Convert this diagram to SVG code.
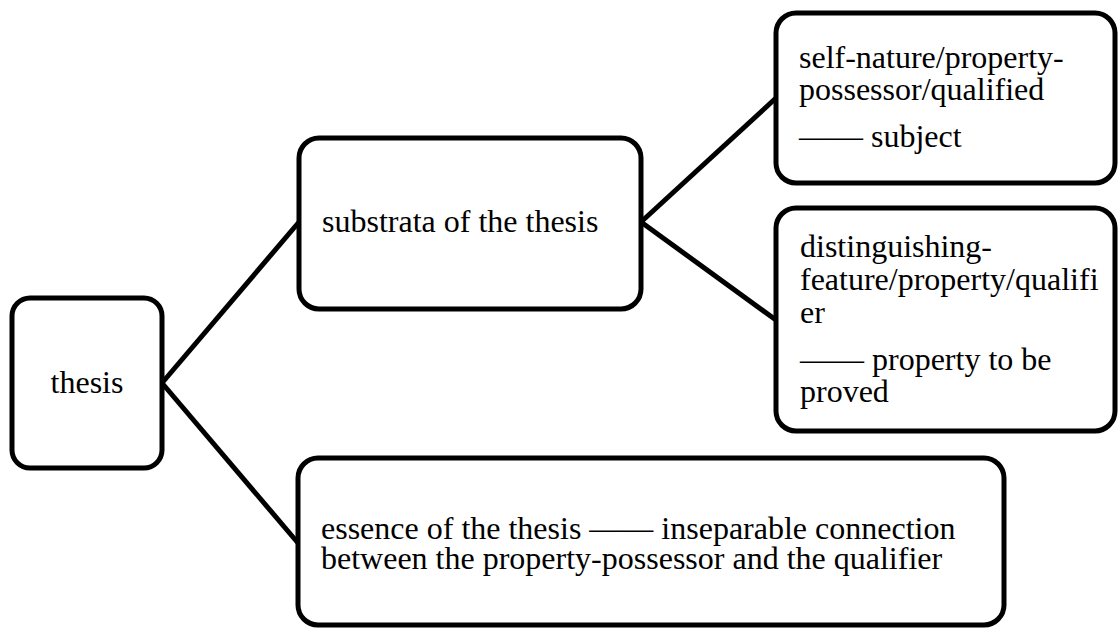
<svg xmlns="http://www.w3.org/2000/svg" width="1118" height="628" viewBox="0 0 1118 628" font-family="Liberation Serif, Times New Roman, Times, serif" font-size="32">
<style>
.box{fill:#fff;stroke:#000;stroke-width:5}
.edge{stroke:#000;stroke-width:5;fill:none}
text{font-family:'Liberation Serif','Times New Roman',Times,serif;font-size:32px;fill:#000}
</style>
<rect width="1118" height="628" fill="#fff"/>
<g id="connectors">
<line class="edge" x1="162" y1="383" x2="299" y2="222"/>
<line class="edge" x1="162" y1="383" x2="298" y2="543"/>
<line class="edge" x1="641" y1="222" x2="776" y2="98"/>
<line class="edge" x1="641" y1="222" x2="776" y2="320"/>
</g>
<g id="thesis">
<rect class="box" x="12" y="298" width="150" height="170" rx="18"/>
<text x="87" y="393" text-anchor="middle">thesis</text>
</g>
<g id="substrata">
<rect class="box" x="299" y="138" width="342" height="171" rx="20"/>
<text x="322" y="232">substrata of the thesis</text>
</g>
<g id="subject">
<rect class="box" x="776" y="13" width="339" height="170" rx="20"/>
<text x="799" y="68">self-nature/property-</text>
<text x="799" y="100">possessor/qualified</text>
<text x="799" y="147">—— subject</text>
</g>
<g id="predicate">
<rect class="box" x="776" y="208" width="339" height="223" rx="20"/>
<text x="800" y="257">distinguishing-</text>
<text x="800" y="290">feature/property/qualifi</text>
<text x="800" y="323">er</text>
<text x="800" y="370">—— property to be</text>
<text x="800" y="402">proved</text>
</g>
<g id="essence">
<rect class="box" x="298" y="458" width="706" height="167" rx="20"/>
<text x="321" y="539">essence of the thesis —— inseparable connection</text>
<text x="321" y="569">between the property-possessor and the qualifier</text>
</g>
</svg>
